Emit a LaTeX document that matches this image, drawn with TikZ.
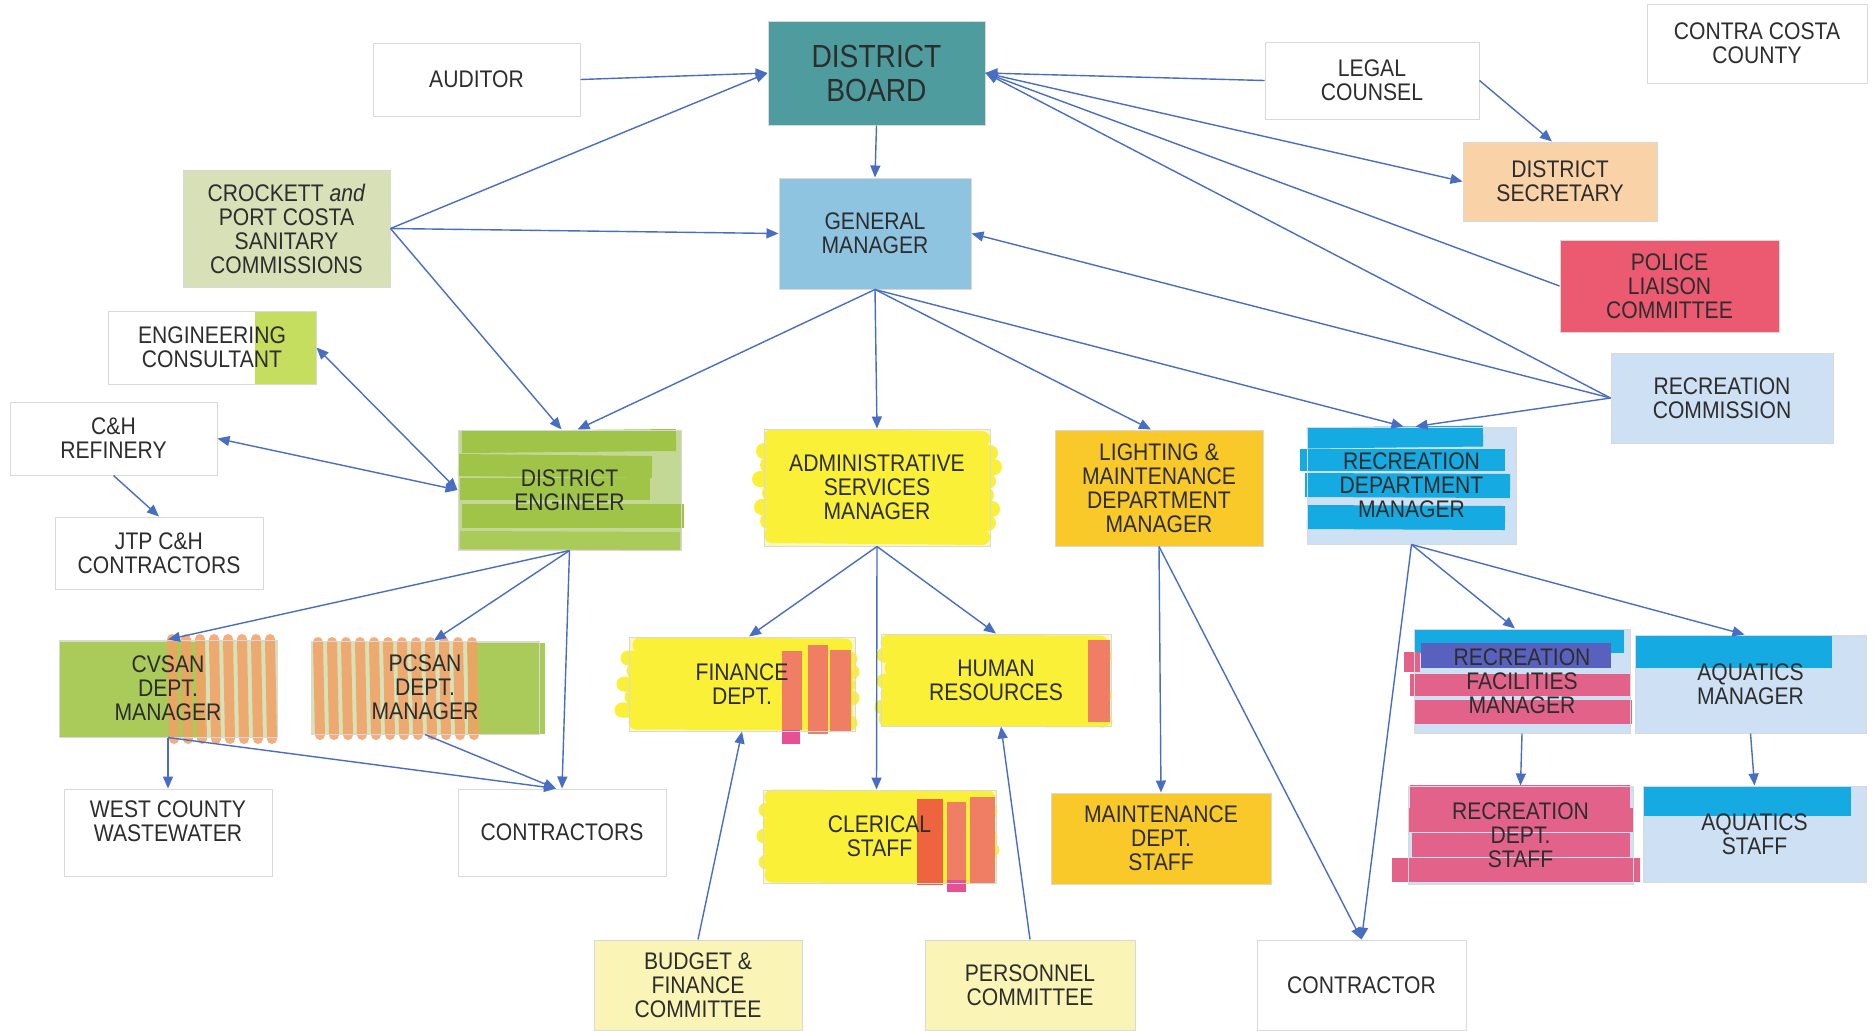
\documentclass[tikz,border=0pt]{standalone}
\usepackage{fontspec}
\setmainfont{Liberation Sans}[FakeStretch=0.88]
\usetikzlibrary{arrows.meta}
\pgfdeclarelayer{fills}\pgfdeclarelayer{marks}
\pgfsetlayers{fills,marks,main}
\definecolor{teal}{RGB}{78,156,158}
\definecolor{gmblue}{RGB}{142,196,224}
\definecolor{crock}{RGB}{215,224,182}
\definecolor{peach}{RGB}{250,210,168}
\definecolor{police}{RGB}{236,90,114}
\definecolor{recpale}{RGB}{205,224,244}
\definecolor{gold}{RGB}{249,201,42}
\definecolor{cyanm}{RGB}{22,170,226}
\definecolor{yelbg}{RGB}{250,248,190}
\definecolor{yelm}{RGB}{250,240,55}
\definecolor{grnbg}{RGB}{214,226,184}
\definecolor{debg}{RGB}{196,216,150}
\definecolor{grnm}{RGB}{160,196,72}
\definecolor{ecg}{RGB}{198,222,95}
\definecolor{orng}{RGB}{242,160,100}
\definecolor{redor}{RGB}{240,126,100}
\definecolor{redd}{RGB}{238,100,62}
\definecolor{pinkm}{RGB}{226,98,138}
\definecolor{pinkb}{RGB}{232,80,150}
\definecolor{bluedk}{RGB}{88,98,190}
\definecolor{commy}{RGB}{250,245,182}
\definecolor{edgec}{RGB}{72,110,196}
\definecolor{txtc}{RGB}{45,45,45}
\tikzset{
  boxnode/.style={rectangle, draw=black!15, line width=0.5pt, inner sep=0pt},
  txt/.style={align=center, inner sep=0pt, text=txtc, font=\fontsize{12}{12}\selectfont},
  ed/.style={draw=edgec, line width=0.7pt, -{Triangle[length=6pt,width=5pt]}},
  edd/.style={draw=edgec, line width=0.7pt, {Triangle[length=6pt,width=5pt]}-{Triangle[length=6pt,width=5pt]}},
  mk/.style={line cap=butt},
  mkr/.style={line cap=round}
}
\newcommand\orgbox[7]{%
  \pgfmathsetmacro\orgbw{(#4-#2)*0.5}\pgfmathsetmacro\orgbh{(#5-#3)*0.5}%
  \node[boxnode, minimum width=\orgbw pt, minimum height=\orgbh pt] (#1) at ({(#2+#4)/2},{(#3+#5)/2}) {};%
  \begin{pgfonlayer}{fills}\fill[#6] (#1.south west) rectangle (#1.north east);\end{pgfonlayer}%
  \node[txt] (#1-t) at (#1.center) {#7};}
\begin{document}
\begin{tikzpicture}[x=0.5pt,y=-0.5pt]
\begin{pgfonlayer}{fills}
\fill[white] (0,0) rectangle (1874,1030);
\end{pgfonlayer}
\useasboundingbox (0,0) rectangle (1874,1030);

% boxes
\orgbox{aud}{373}{43}{580}{116}{white}{AUDITOR}
\node[boxnode, minimum width=108.5pt, minimum height=52pt] (board) at (876.5,73) {};
\begin{pgfonlayer}{fills}\fill[teal] (board.south west) rectangle (board.north east);\end{pgfonlayer}
\node[txt, font=\fontsize{16}{17}\selectfont] (board-t) at (board.center) {DISTRICT\\BOARD};
\orgbox{ccc}{1647}{4}{1867}{83}{white}{CONTRA COSTA\\COUNTY}
\orgbox{legal}{1265}{42}{1479}{119}{white}{LEGAL\\COUNSEL}
\orgbox{crock}{183}{170}{390}{287}{crock}{CROCKETT \textit{and}\\PORT COSTA\\SANITARY\\COMMISSIONS}
\orgbox{gm}{779}{178}{971}{289}{gmblue}{GENERAL\\MANAGER}
\orgbox{ds}{1463}{142}{1657}{221}{peach}{DISTRICT\\SECRETARY}
\orgbox{police}{1560}{240}{1779}{332}{police}{POLICE\\LIAISON\\COMMITTEE}
\orgbox{ec}{108}{311}{316}{384}{white}{ENGINEERING\\CONSULTANT}
\orgbox{rc}{1611}{353}{1833}{443}{recpale}{RECREATION\\COMMISSION}
\orgbox{ch}{10}{402}{217}{475}{white}{C\&H\\REFINERY}
\orgbox{de}{458}{430}{681}{550}{debg}{DISTRICT\\ENGINEER}
\orgbox{admin}{764}{429}{990}{546}{yelbg}{ADMINISTRATIVE\\SERVICES\\MANAGER}
\orgbox{light}{1055}{430}{1263}{546}{gold}{LIGHTING \&\\MAINTENANCE\\DEPARTMENT\\MANAGER}
\orgbox{rdm}{1307}{427}{1516}{544}{recpale}{RECREATION\\DEPARTMENT\\MANAGER}
\orgbox{jtp}{55}{517}{263}{589}{white}{JTP C\&H\\CONTRACTORS}
\orgbox{cvsan}{59}{640}{277}{737}{grnbg}{CVSAN\\DEPT.\\MANAGER}
\orgbox{pcsan}{311}{641}{539}{734}{grnbg}{PCSAN\\DEPT.\\MANAGER}
\orgbox{fin}{629}{637}{855}{731}{yelbg}{FINANCE\\DEPT.}
\orgbox{hr}{881}{634}{1111}{726}{yelbg}{HUMAN\\RESOURCES}
\orgbox{rfm}{1414}{629}{1630}{733}{recpale}{RECREATION\\FACILITIES\\MANAGER}
\orgbox{aqm}{1635}{635}{1866}{733}{recpale}{AQUATICS\\MANAGER}
\node[boxnode, minimum width=104pt, minimum height=43.5pt] (wcw) at (168,832.5) {};
\node[txt] (wcw-t) at (168,821) {WEST COUNTY\\WASTEWATER};
\orgbox{contrs}{458}{789}{666}{876}{white}{CONTRACTORS}
\orgbox{cler}{763}{790}{996}{883}{yelbg}{CLERICAL\\STAFF}
\orgbox{maint}{1051}{793}{1271}{884}{gold}{MAINTENANCE\\DEPT.\\STAFF}
\orgbox{rds}{1408}{786}{1633}{884}{recpale}{RECREATION\\DEPT.\\STAFF}
\orgbox{aqs}{1643}{786}{1866}{882}{recpale}{AQUATICS\\STAFF}
\orgbox{budget}{594}{940}{802}{1030}{commy}{BUDGET \&\\FINANCE\\COMMITTEE}
\orgbox{pers}{925}{940}{1135}{1030}{commy}{PERSONNEL\\COMMITTEE}
\orgbox{contr}{1257}{940}{1466}{1030}{white}{CONTRACTOR}

% marker strokes
\begin{pgfonlayer}{marks}
% engineering consultant
\fill[ecg] (255,312) rectangle (316,384);
% district engineer
\draw[mk, grnm, line width=11pt] (462,442) -- (676,440);
\draw[mk, grnm, line width=11pt] (458,465) -- (652,467);
\draw[mk, grnm, line width=11pt] (460,489) -- (650,489);
\draw[mk, grnm, line width=12pt] (462,516) -- (684,516);
\draw[mk, grnm!90, line width=9pt] (460,540) -- (680,541);
% administrative
\foreach \yy/\xa/\xb in {437/772/982, 451/764/990, 465/768/994, 479/760/988, 493/770/986, 507/762/992, 521/768/988, 535/772/982}
  \draw[mkr, yelm, line width=8pt] (\xa,\yy) -- (\xb,\yy+2);
% finance
\foreach \yy/\xa/\xb in {645/640/845, 658/628/850, 671/634/852, 684/624/848, 697/632/852, 710/622/845, 722/636/850}
  \draw[mkr, yelm, line width=7.5pt] (\xa,\yy) -- (\xb,\yy+1);
\fill[pinkb] (782,728) rectangle (800,744);
\fill[redor] (782,651) rectangle (802,730);
\fill[redor] (808,645) rectangle (828,734);
\fill[redor] (830,650) rectangle (851,732);
% human resources
\foreach \yy/\xa/\xb in {642/888/1100, 655/884/1104, 668/892/1102, 681/884/1100, 694/888/1104, 707/882/1102, 719/886/1104}
  \draw[mkr, yelm, line width=7.5pt] (\xa,\yy) -- (\xb,\yy+1);
\fill[redor] (1088,640) rectangle (1110,722);
% clerical
\foreach \yy/\xa/\xb in {797/772/988, 810/766/990, 823/770/988, 836/764/990, 849/770/992, 862/766/988, 875/772/986}
  \draw[mkr, yelm, line width=7.5pt] (\xa,\yy) -- (\xb,\yy+1);
\fill[redd] (917,799) rectangle (943,885);
\fill[redor] (947,802) rectangle (966,890);
\fill[pinkb] (947,880) rectangle (966,892);
\fill[redor] (970,797) rectangle (995,884);
% cvsan
\fill[grnm!90] (59,642) rectangle (205,737);
\foreach \xx in {172,186,200,214,228,242,256,270}
  \draw[mkr, orng, opacity=0.85, line width=5pt] (\xx,639) -- (\xx+2,739);
% pcsan
\fill[grnm!90] (468,643) rectangle (545,734);
\foreach \xx in {318,332,346,360,374,388,402,416,430,444,458,472}
  \draw[mkr, orng, opacity=0.85, line width=5pt] (\xx,642) -- (\xx+2,735);
% recreation department manager
\draw[mk, cyanm, line width=10.5pt] (1307,438) -- (1483,436);
\draw[mk, cyanm, line width=11pt] (1300,460) -- (1505,460);
\draw[mk, cyanm, line width=12pt] (1305,485) -- (1510,486);
\draw[mk, cyanm, line width=12pt] (1307,517) -- (1505,518);
% recreation facilities manager
\fill[cyanm] (1415,629) rectangle (1624,653);
\draw[mk, pinkm, line width=10pt] (1404,662) -- (1420,662);
\fill[bluedk] (1421,643) rectangle (1611,668);
\draw[mk, pinkm, line width=11pt] (1410,685) -- (1630,685);
\draw[mk, pinkm, line width=12pt] (1414,712) -- (1632,712);
% aquatics
\fill[cyanm] (1635,636) rectangle (1832,668);
\fill[cyanm] (1644,787) rectangle (1851,816);
% recreation dept staff
\draw[mk, pinkm, line width=12pt] (1410,797) -- (1630,797);
\draw[mk, pinkm, line width=12pt] (1408,820) -- (1633,820);
\draw[mk, pinkm, line width=12pt] (1412,845) -- (1630,845);
\draw[mk, pinkm, line width=12pt] (1392,870) -- (1640,870);
\end{pgfonlayer}

% connectors
\draw[ed] (aud.east) -- (board.west);
\draw[ed] (crock.east) -- (board.west);
\draw[ed] (crock.east) -- (gm.west);
\draw[ed] (crock.east) -- ([xshift=-4pt]de.north);
\draw[ed] (board.south) -- (gm.north);
\draw[ed] (gm.south) -- ([xshift=4pt]de.north);
\draw[ed] (gm.south) -- (admin.north);
\draw[ed] (gm.south) -- ([xshift=-4pt]light.north);
\draw[ed] (gm.south) -- ([xshift=-4pt]rdm.north);
\draw[edd] (ec.east) -- (de.west);
\draw[edd] (ch.east) -- (de.west);
\draw[ed] (ch.south) -- (jtp.north);
\draw[ed] (legal.west) -- (board.east);
\draw[ed] (board.east) -- (ds.west);
\draw[ed] (legal.east) -- ([xshift=-4pt]ds.north);
\draw[ed] (police.west) -- (board.east);
\draw[ed] (rc.west) -- (board.east);
\draw[ed] (rc.west) -- (gm.east);
\draw[ed] (rc.west) -- ([xshift=2pt]rdm.north);
\draw[ed] (de.south) -- (cvsan.north);
\draw[ed] (de.south) -- ([xshift=4.5pt]pcsan.north);
\draw[ed] (de.south) -- (contrs.north);
\draw[ed] (cvsan.south) -- (wcw.north);
\draw[ed] (cvsan.south) -- ([xshift=-3pt]contrs.north);
\draw[ed] (pcsan.south) -- ([xshift=-3pt]contrs.north);
\draw[ed] (admin.south) -- ([xshift=3.5pt]fin.north);
\draw[ed] (admin.south) -- ([xshift=-1.5pt]cler.north);
\draw[ed] (admin.south) -- (hr.north);
\draw[ed] (budget.north) -- (fin.south);
\draw[ed] (pers.north) -- ([xshift=2.5pt]hr.south);
\draw[ed] (light.south) -- (maint.north);
\draw[ed] (light.south) -- (contr.north);
\draw[ed] (rdm.south) -- (contr.north);
\draw[ed] (rdm.south) -- ([xshift=-3.5pt]rfm.north);
\draw[ed] (rdm.south) -- ([xshift=-3pt]aqm.north);
\draw[ed] (rfm.south) -- (rds.north);
\draw[ed] (aqm.south) -- (aqs.north);
\end{tikzpicture}
\end{document}
